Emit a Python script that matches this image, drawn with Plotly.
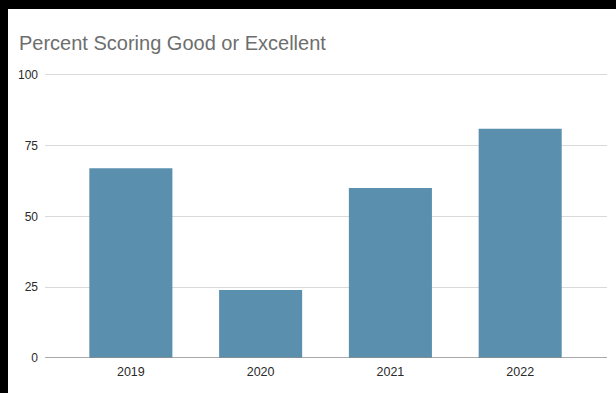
import plotly.graph_objects as go

years = ["2019", "2020", "2021", "2022"]
percent = [67, 24, 60, 81]
y_ticks = [0, 25, 50, 75, 100]
title_text = "Percent Scoring Good or Excellent"

W, H = 616, 393
L, R, T, B = 45, 9, 72, 35
pw, ph = W - L - R, H - T - B

def px2x(px):
    return (px - L) / pw

def py2y(py):
    return (H - B - py) / ph

fig = go.Figure()
fig.add_trace(go.Bar(
    x=years, y=percent,
    marker=dict(color="#5A8FAE", line=dict(width=0)),
    width=0.64,
))

fig.update_layout(
    width=W, height=H,
    margin=dict(l=L, r=R, t=T, b=B),
    paper_bgcolor="white", plot_bgcolor="white",
    showlegend=False,
    font=dict(family="Liberation Sans, Arial, sans-serif", color="#333333"),
    title=dict(text=title_text, x=19 / W, xanchor="left", xref="container",
               y=1 - 43 / H, yanchor="middle",
               font=dict(size=20, color="#6E6E6E", family="Liberation Sans, Arial, sans-serif")),
    xaxis=dict(range=[-0.6615, 3.669], showgrid=False, showline=False, ticks="",
               ticklabelstandoff=4,
               tickfont=dict(size=12.5, color="#2A2A2A"), fixedrange=True),
    yaxis=dict(range=[0, 101], tickvals=y_ticks, showgrid=True, gridcolor="#D9D9D9", gridwidth=1,
               zeroline=False, showline=False, ticks="", ticklen=0, ticklabelstandoff=6,
               tickfont=dict(size=12, color="#2A2A2A"), fixedrange=True),
    shapes=[
        dict(type="line", xref="paper", yref="y", x0=0, x1=1, y0=0, y1=0,
             line=dict(color="#8C8C8C", width=1.5), layer="above"),
        dict(type="rect", xref="paper", yref="paper", x0=px2x(-5), x1=px2x(W + 5),
             y0=py2y(9), y1=py2y(-5), fillcolor="black", line=dict(width=0), layer="above"),
        dict(type="rect", xref="paper", yref="paper", x0=px2x(-5), x1=px2x(8),
             y0=py2y(H + 5), y1=py2y(-5), fillcolor="black", line=dict(width=0), layer="above"),
    ],
)

fig.write_html("out.html", config={"displayModeBar": False},
               post_script="document.body.style.margin='0';document.body.style.overflow='hidden';")
